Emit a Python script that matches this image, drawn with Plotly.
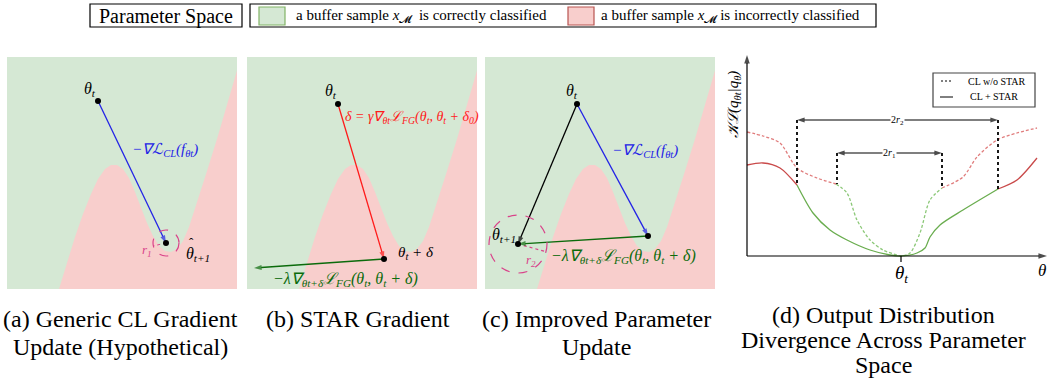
import plotly.graph_objects as go

W, H = 1050, 381

# ---------------- data ----------------
# decision boundary of the buffer sample (panel coordinates, pixels, y down)
boundary_x = [52, 60, 68, 76, 84, 91, 98, 104, 110, 116, 122, 128, 134, 140, 146, 152,
              158, 164, 170, 176, 182, 190, 200, 210, 220, 231]
boundary_y = [232, 205, 180, 157, 137, 122, 112, 108, 108, 112, 121, 135, 151, 166, 179, 189,
              194, 195, 192, 184, 170, 146, 114, 82, 48, 10]

# panel (a): generic CL update
a_theta_t = (91, 44)
a_theta_hat = (159, 186)
a_r1 = 13
# panel (b): STAR gradient
b_theta_t = (91, 47)
b_theta_delta = (137, 202)
b_fg_end = (7, 211)
# panel (c): improved update
c_theta_t = (92, 47)
c_cl_end = (163, 179)
c_theta_next = (33, 187)
c_r2 = 29

# panel (d): output divergence curves (pixel coordinates)
wo_star_x = [747, 763, 780, 797, 817, 836, 847, 857, 870, 883, 897, 901, 910, 920, 930, 942,
             963, 977, 997, 1017, 1037]
wo_star_y = [132, 136, 143, 168, 178, 184, 193, 220, 240, 250, 255, 256, 253, 233, 200, 188,
             177, 157, 140, 133, 128]
wo_star_split = [5, 15]
star_x = [747, 763, 780, 797, 813, 830, 847, 870, 890, 901, 917, 925, 930, 940, 963, 998, 1017, 1037]
star_y = [165, 163, 168, 185, 213, 230, 240, 250, 255, 256, 253, 248, 237, 225, 210, 189, 180, 158]
star_split = [3, 15]
r1_span = (837, 942)
r2_span = (797, 998)
theta_t_x = 901

captions = [["(a) Generic CL Gradient", "Update (Hypothetical)"],
            ["(b) STAR Gradient"],
            ["(c) Improved Parameter", "Update"],
            ["(d) Output Distribution", "Divergence Across Parameter", "Space"]]

# ---------------- styles ----------------
GREEN_BG = "#d5e8d4"
RED_BG = "#f8cecc"
BLUE = "#2323e6"
RED = "#ff1a1a"
DGREEN = "#0b6b0b"
MAG = "#d9438a"
SERIF = "Liberation Serif"

panels = {  # pixel frames: left, top, right, bottom
    "a": (7, 57, 237, 289),
    "b": (247, 57, 477, 289),
    "c": (485, 57, 715, 289),
}
D_FRAME = (725, 40, 1050, 300)


def px(x):
    return x / W


def py(y):
    return 1 - y / H


fig = go.Figure()
layout_axes = {}
refs = {"a": ("x", "y"), "b": ("x2", "y2"), "c": ("x3", "y3"), "d": ("x4", "y4")}

for key, (l, t, r, b) in panels.items():
    xr, yr = refs[key]
    n = xr[1:] if len(xr) > 1 else ""
    layout_axes["xaxis" + n] = dict(domain=[px(l), px(r)], range=[0, r - l], visible=False,
                                   anchor=yr, fixedrange=True)
    layout_axes["yaxis" + n] = dict(domain=[py(b), py(t)], range=[b - t, 0], visible=False,
                                   anchor=xr, fixedrange=True)
    pw, ph = r - l, b - t
    fig.add_trace(go.Scatter(x=[0, pw, pw, 0, 0], y=[0, 0, ph, ph, 0], fill="toself",
                             fillcolor=GREEN_BG, line=dict(width=0), mode="lines",
                             xaxis=xr, yaxis=yr, hoverinfo="skip", showlegend=False))
    rx = boundary_x + [pw, pw, boundary_x[0]]
    ry = boundary_y + [0, ph, boundary_y[0]]
    fig.add_trace(go.Scatter(x=rx, y=ry, fill="toself", fillcolor=RED_BG, line=dict(width=0),
                             mode="lines", xaxis=xr, yaxis=yr, hoverinfo="skip", showlegend=False))

l, t, r, b = D_FRAME
layout_axes["xaxis4"] = dict(domain=[px(l), px(r)], range=[l, r], visible=False, anchor="y4",
                             fixedrange=True)
layout_axes["yaxis4"] = dict(domain=[py(b), py(t)], range=[b, t], visible=False, anchor="x4",
                             fixedrange=True)

annotations = []
shapes = []


def arrow(ref, tail, head, color, width=1.3, size=8):
    xr, yr = ref
    fig.add_trace(go.Scatter(x=[tail[0], head[0]], y=[tail[1], head[1]], mode="lines+markers",
                             line=dict(color=color, width=width),
                             marker=dict(symbol="arrow", size=[0, size], angleref="previous",
                                         color=color, line=dict(width=0)),
                             xaxis=xr, yaxis=yr, hoverinfo="skip", showlegend=False))


def label(ref, x, y, text, color="black", size=15, xanchor="center"):
    xr, yr = ref
    annotations.append(dict(x=x, y=y, xref=xr, yref=yr, text=text, showarrow=False,
                            font=dict(family=SERIF, size=size, color=color), xanchor=xanchor,
                            yanchor="middle"))


def dot(ref, pts):
    xr, yr = ref
    fig.add_trace(go.Scatter(x=[p[0] for p in pts], y=[p[1] for p in pts], mode="markers",
                             marker=dict(color="black", size=6), xaxis=xr, yaxis=yr,
                             hoverinfo="skip", showlegend=False))


def circle(ref, c, rad):
    xr, yr = ref
    shapes.append(dict(type="circle", xref=xr, yref=yr, x0=c[0] - rad, x1=c[0] + rad,
                       y0=c[1] - rad, y1=c[1] + rad, line=dict(color=MAG, width=1.2, dash="dash")))


TH_T = "<i>θ<sub>t</sub></i>"
CL_LBL = "<i>−∇ℒ<sub>CL</sub>(f<sub>θt</sub>)</i>"
FG_LBL = "<i>−λ∇<sub>θt+δ</sub>ℒ<sub>FG</sub>(θ<sub>t</sub>, θ<sub>t</sub> + δ)</i>"

# ---- panel (a)
ra = refs["a"]
circle(ra, a_theta_hat, a_r1)
fig.add_trace(go.Scatter(x=[a_theta_hat[0], a_theta_hat[0] - a_r1], y=[a_theta_hat[1], a_theta_hat[1] + 3],
                         mode="lines", line=dict(color=MAG, width=1, dash="dot"),
                         xaxis=ra[0], yaxis=ra[1], hoverinfo="skip", showlegend=False))
arrow(ra, a_theta_t, a_theta_hat, BLUE)
dot(ra, [a_theta_t, a_theta_hat])
label(ra, a_theta_t[0] - 8, a_theta_t[1] - 11, TH_T, size=16)
label(ra, 158, 93, CL_LBL, color=BLUE, size=15)
label(ra, 140, 193, "<i>r<sub>1</sub></i>", color=MAG, size=13)
label(ra, 191, 197, "<i>θ<sub>t+1</sub></i>", size=16)
label(ra, 184, 185, "ˆ", size=13)

# ---- panel (b)
rb = refs["b"]
arrow(rb, b_theta_t, b_theta_delta, RED)
arrow(rb, b_theta_delta, b_fg_end, DGREEN)
dot(rb, [b_theta_t, b_theta_delta])
label(rb, b_theta_t[0] - 7, b_theta_t[1] - 12, TH_T, size=16)
label(rb, 96, 61, "<i>δ = γ∇<sub>θt</sub>ℒ<sub>FG</sub>(θ<sub>t</sub>, θ<sub>t</sub> + δ<sub>0</sub>)</i>",
      color=RED, size=14, xanchor="left")
label(rb, 169, 196, "<i>θ<sub>t</sub> + δ</i>", size=15)
label(rb, 98, 222, FG_LBL, color=DGREEN, size=16)

# ---- panel (c)
rc = refs["c"]
circle(rc, c_theta_next, c_r2)
fig.add_trace(go.Scatter(x=[c_theta_next[0], c_theta_next[0] + c_r2], y=[c_theta_next[1], c_theta_next[1] + 8],
                         mode="lines", line=dict(color=MAG, width=1.2, dash="dot"),
                         xaxis=rc[0], yaxis=rc[1], hoverinfo="skip", showlegend=False))
arrow(rc, c_theta_t, c_cl_end, BLUE)
arrow(rc, c_cl_end, c_theta_next, DGREEN)
arrow(rc, c_theta_t, c_theta_next, "black")
dot(rc, [c_theta_t, c_cl_end, c_theta_next])
label(rc, c_theta_t[0] - 5, c_theta_t[1] - 12, TH_T, size=16)
label(rc, 160, 94, CL_LBL, color=BLUE, size=15)
label(rc, 19, 178, "<i>θ<sub>t+1</sub></i>", size=16)
label(rc, 46, 203, "<i>r<sub>2</sub></i>", color=MAG, size=13)
label(rc, 138, 199, FG_LBL, color=DGREEN, size=16)

# ---- panel (d)
rd = refs["d"]


def seg_trace(xs, ys, i0, i1, color, dash):
    fig.add_trace(go.Scatter(x=xs[i0:i1 + 1], y=ys[i0:i1 + 1], mode="lines",
                             line=dict(color=color, width=1.3, dash=dash, shape="spline", smoothing=0.8),
                             xaxis="x4", yaxis="y4", hoverinfo="skip", showlegend=False))


s0, s1 = wo_star_split
seg_trace(wo_star_x, wo_star_y, 0, s0, "#e07c7c", "3px,2px")
seg_trace(wo_star_x, wo_star_y, s0, s1, "#8cc878", "3px,2px")
seg_trace(wo_star_x, wo_star_y, s1, len(wo_star_x) - 1, "#e07c7c", "3px,2px")
s0, s1 = star_split
seg_trace(star_x, star_y, 0, s0, "#c94a4a", "solid")
seg_trace(star_x, star_y, s0, s1, "#6aad4f", "solid")
seg_trace(star_x, star_y, s1, len(star_x) - 1, "#c94a4a", "solid")

ORIGIN = (747, 256)
arrow(rd, ORIGIN, (747, 55), "black", width=1.2, size=9)
arrow(rd, ORIGIN, (1047, 256), "black", width=1.2, size=9)
fig.add_trace(go.Scatter(x=[theta_t_x, theta_t_x], y=[256, 262], mode="lines",
                         line=dict(color="black", width=1.2), xaxis="x4", yaxis="y4",
                         hoverinfo="skip", showlegend=False))

span_defs = [(r2_span, 120, star_x, star_y, "2<i>r</i><sub>2</sub>"),
             (r1_span, 153, wo_star_x, wo_star_y, "2<i>r</i><sub>1</sub>")]
for (x0, x1), ytop, cx, cy, txt in span_defs:
    for xv in (x0, x1):
        j = min(range(len(cx)), key=lambda k: abs(cx[k] - xv))
        fig.add_trace(go.Scatter(x=[xv, xv], y=[ytop, cy[j]], mode="lines",
                                 line=dict(color="black", width=1.8, dash="dot"),
                                 xaxis="x4", yaxis="y4", hoverinfo="skip", showlegend=False))
    mid = (x0 + x1) / 2
    arrow(rd, (mid, ytop), (x1, ytop), "black", width=1.2)
    arrow(rd, (mid, ytop), (x0, ytop), "black", width=1.2)
    annotations.append(dict(x=mid, y=ytop, xref="x4", yref="y4", text=txt,
                            showarrow=False, bgcolor="white", borderpad=0,
                            font=dict(family=SERIF, size=10, color="black")))

label(rd, theta_t_x, 274, "<i>θ<sub>t</sub></i>", size=19)
label(rd, 1042, 270, "<i>θ</i>", size=17)
annotations.append(dict(x=734, y=105, xref="x4", yref="y4",
                        text="<i>𝒦ℒ(q<sub>θt</sub>|q<sub>θ</sub>)</i>",
                        showarrow=False, textangle=-90,
                        font=dict(family=SERIF, size=15, color="black")))

# legend box in (d)
shapes.append(dict(type="rect", xref="x4", yref="y4", x0=933, x1=1035, y0=73, y1=107, layer="below",
                   line=dict(color="#444444", width=1.2), fillcolor="white"))
fig.add_trace(go.Scatter(x=[941, 953], y=[81, 81], mode="lines",
                         line=dict(color="black", width=1, dash="2px,2px"),
                         xaxis="x4", yaxis="y4", hoverinfo="skip", showlegend=False))
fig.add_trace(go.Scatter(x=[940, 953], y=[97, 97], mode="lines", line=dict(color="black", width=1),
                         xaxis="x4", yaxis="y4", hoverinfo="skip", showlegend=False))
label(rd, 996, 81, "CL w/o STAR", size=10)
label(rd, 994, 96, "CL + STAR", size=10)

# ---- top legend (paper coordinates)
shapes.append(dict(type="rect", xref="paper", yref="paper", x0=px(90), x1=px(242), y0=py(27), y1=py(4),
                   line=dict(color="black", width=1.2)))
shapes.append(dict(type="rect", xref="paper", yref="paper", x0=px(250), x1=px(876), y0=py(27), y1=py(4),
                   line=dict(color="black", width=1.2)))
shapes.append(dict(type="rect", xref="paper", yref="paper", x0=px(259), x1=px(285), y0=py(25), y1=py(7),
                   line=dict(color="#82b366", width=1.2), fillcolor=GREEN_BG))
shapes.append(dict(type="rect", xref="paper", yref="paper", x0=px(568), x1=px(594), y0=py(25), y1=py(7),
                   line=dict(color="#b85450", width=1.2), fillcolor=RED_BG))


def paper_text(x, y, text, size, xanchor="center"):
    annotations.append(dict(x=px(x), y=py(y), xref="paper", yref="paper", text=text,
                            xanchor=xanchor, yanchor="middle", showarrow=False,
                            font=dict(family=SERIF, size=size, color="black")))


paper_text(166, 16, "Parameter Space", 20)
paper_text(294, 16, "a buffer sample <i>x</i><sub>𝓜</sub>  is correctly classified", 15, "left")
paper_text(599, 16, "a buffer sample <i>x</i><sub>𝓜</sub> is incorrectly classified", 15, "left")

# ---- captions
cap_x = [120, 358, 596, 883]
cap_y = [[319, 347], [319], [319, 347], [315, 340, 365]]
for cx_, ys, lines in zip(cap_x, cap_y, captions):
    for yy, txt in zip(ys, lines):
        paper_text(cx_, yy, txt, 24)

fig.update_layout(width=W, height=H, margin=dict(l=0, r=0, t=0, b=0),
                  paper_bgcolor="white", plot_bgcolor="white", showlegend=False,
                  annotations=annotations, shapes=shapes, **layout_axes)

fig.write_html("out.html", config={"displayModeBar": False},
               post_script="document.body.style.margin='0px';")
